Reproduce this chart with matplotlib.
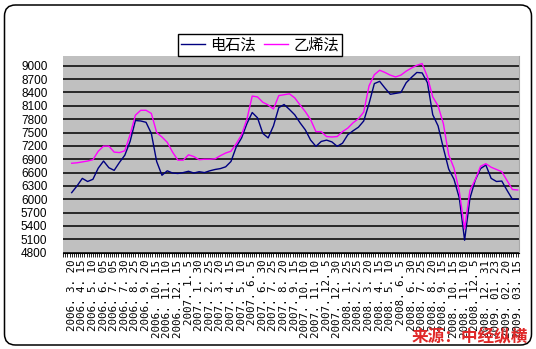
import numpy as np
import matplotlib.pyplot as plt
from matplotlib.patches import FancyBboxPatch
from matplotlib.ticker import MultipleLocator

# category labels on the x axis (one every ~5 records)
date_labels = [
    "2006. 3. 20", "2006. 4. 15", "2006. 5. 10", "2006. 6. 05", "2006. 7. 05",
    "2006. 7. 30", "2006. 8. 25", "2006. 9. 20", "2006. 10. 15", "2006. 11. 10",
    "2006. 12. 15", "2007. 1. 5", "2007. 1. 30", "2007. 2. 25", "2007. 3. 20",
    "2007. 4. 15", "2007. 5. 10", "2007. 6. 5", "2007. 6. 30", "2007. 7. 25",
    "2007. 8. 20", "2007. 9. 15", "2007. 10. 10", "2007. 11. 10", "2007. 12. 5",
    "2007. 12. 30", "2008. 1. 25", "2008. 2. 25", "2008. 3. 20", "2008. 4. 15",
    "2008. 5. 10", "2008. 6. 5", "2008. 6. 30", "2008. 7. 25", "2008. 8. 20",
    "2008. 9. 15", "2008. 10. 15", "2008. 11. 10", "2008. 12. 5", "2008. 12. 31",
    "2009. 01. 23", "2009. 02. 20", "2009. 03. 15",
]

# prices, two readings per label interval
carbide = [
    6150, 6300, 6470, 6400, 6450, 6700, 6860, 6710, 6650, 6830,
    6990, 7300, 7770, 7760, 7730, 7480, 6850, 6540, 6640, 6590,
    6580, 6600, 6630, 6590, 6620, 6600, 6640, 6670, 6690, 6730,
    6850, 7180, 7380, 7700, 7950, 7830, 7480, 7380, 7650, 8060,
    8130, 8020, 7900, 7720, 7560, 7330, 7190, 7300, 7330, 7290,
    7190, 7260, 7450, 7540, 7620, 7760, 8150, 8600, 8650, 8500,
    8360, 8380, 8400, 8620, 8740, 8850, 8840, 8620, 7900, 7650,
    7150, 6680, 6450, 6030, 5080, 6020, 6430, 6690, 6770, 6470,
    6400, 6410, 6200, 6000, 6000,
]
ethylene = [
    6810, 6820, 6840, 6860, 6890, 7080, 7195, 7195, 7060, 7050,
    7090, 7450, 7890, 8000, 8000, 7930, 7500, 7400, 7280, 7060,
    6880, 6880, 7000, 6960, 6890, 6900, 6900, 6910, 6980, 7040,
    7080, 7250, 7450, 7800, 8320, 8300, 8180, 8120, 8030, 8330,
    8350, 8370, 8280, 8120, 7970, 7790, 7520, 7520, 7410, 7400,
    7410, 7520, 7600, 7720, 7810, 7960, 8550, 8800, 8900, 8850,
    8790, 8750, 8790, 8880, 8950, 9010, 9050, 8750, 8300, 8100,
    7700, 7000, 6700, 6180, 5330, 6200, 6440, 6740, 6800, 6720,
    6670, 6620, 6420, 6220, 6210,
]
series_names = ["电石法", "乙烯法"]
points_per_label = 2

W, H = 536, 349
fig = plt.figure(figsize=(W / 100, H / 100), dpi=100)

# outer rounded chart frame, drawn in pixel units
bg = fig.add_axes([0, 0, 1, 1], zorder=-5)
bg.set_xlim(0, W)
bg.set_ylim(H, 0)
bg.axis("off")
bg.add_patch(FancyBboxPatch((4.5, 5), 527, 340,
                            boxstyle="round,pad=0,rounding_size=11",
                            fc="white", ec="black", lw=1.1))

ax = fig.add_axes([62.7 / W, 1 - 252.7 / H, (519.3 - 62.7) / W, (252.7 - 56) / H])
ax.set_facecolor("#C0C0C0")

x = np.arange(len(carbide)) / points_per_label
l1, = ax.plot(x, carbide, color="#000080", lw=1.0, zorder=3)
l2, = ax.plot(x, ethylene, color="#FF00FF", lw=1.0, zorder=3)

ax.set_ylim(4800, 9220)
ax.set_yticks(np.arange(4800, 9001, 300))
ax.yaxis.grid(True, color="black", lw=1.1)
ax.set_axisbelow(True)
ax.tick_params(axis="y", length=0, pad=11, labelsize=8.5)
for t in ax.get_yticklabels():
    t.set_fontfamily("Liberation Sans")

ax.set_xlim(-0.847, 42.15)
ax.set_xticks(np.arange(len(date_labels)))
ax.set_xticklabels(date_labels, rotation=90, va="top", ha="center",
                   fontfamily="DejaVu Sans Mono", fontsize=7.8)
ax.xaxis.set_minor_locator(MultipleLocator(0.2))
ax.tick_params(axis="x", which="both", length=3, width=0.6, direction="out", pad=2)

for s in ["top", "left"]:
    ax.spines[s].set_visible(False)
ax.spines["right"].set_color("#A8A8A8")
ax.spines["bottom"].set_color("black")

fig.legend([l1, l2], series_names, loc="lower left",
           bbox_to_anchor=(178.3 / W, 1 - 55.5 / H), ncol=2,
           prop={"family": ["Noto Sans CJK SC", "DejaVu Sans"], "size": 11},
           frameon=True, fancybox=False, edgecolor="black", framealpha=1,
           borderpad=0.15, handlelength=1.6, handletextpad=0.35,
           columnspacing=0.5, borderaxespad=0)

fig.text(528 / W, 1 - 337.5 / H, "来源：中经纵横", ha="right", va="center",
         color="#E02828", fontsize=12, fontweight="bold",
         family=["Noto Sans CJK SC", "DejaVu Sans"])

fig.savefig("out.png", dpi=100)
